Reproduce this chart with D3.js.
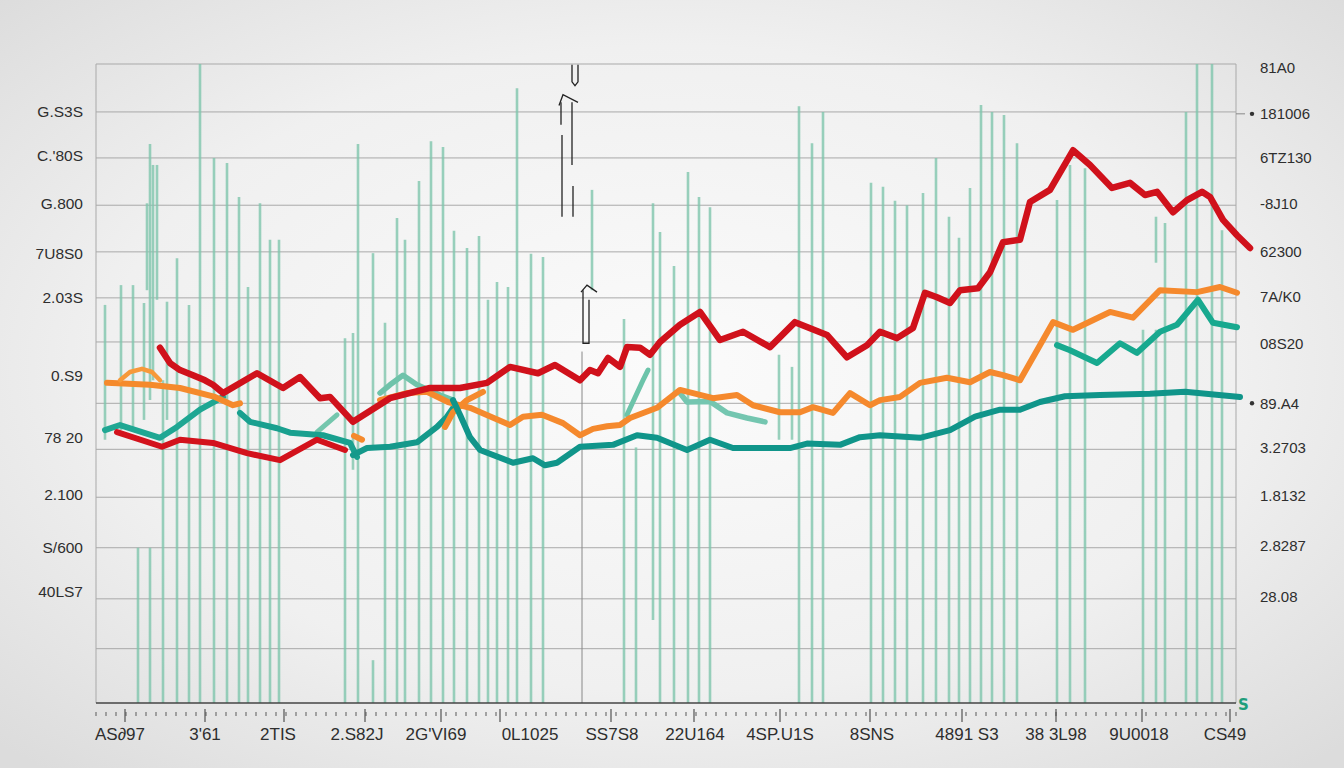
<!DOCTYPE html>
<html>
<head>
<meta charset="utf-8">
<script src="https://cdn.jsdelivr.net/npm/d3@7"></script>
<style>
  html, body { margin: 0; padding: 0; background: #e9e9e9; }
  .lbl { font-family: "Liberation Sans", Arial, sans-serif; fill: #2e2e2e; }
  .grid { stroke: #a9a9a9; stroke-width: 1; }
  .spike { stroke: #7fc6ad; stroke-opacity: 0.8; stroke-width: 2.6; }
  .ser { fill: none; stroke-linejoin: round; stroke-linecap: round; }
  .ink { fill: none; stroke: #222; stroke-width: 1.3; }
</style>
</head>
<body>
<div id="chart"></div>
<script>
// ---- data (periods 0..114 along x, index 0..100 along y) ----
var gridValues = [92.5, 85.3, 77.9, 70.6, 63.4, 56.5, 46.9, 39.7, 32.2, 24.3, 16.3, 8.5];

var leftLabels = ["G.S3S", "C.'80S", "G.800", "7U8S0", "2.03S", "0.S9", "78 20", "2.100", "S/600", "40LS7"];
var leftValues = [92.5, 85.6, 78.1, 70.4, 63.5, 51.2, 41.5, 32.6, 24.4, 17.4];

var rightLabels = ["81A0", "181006", "6TZ130", "-8J10", "62300", "7A/K0", "08S20", "89.A4", "3.2703", "1.8132", "2.8287", "28.08"];
var rightValues = [99.4, 92.2, 85.3, 78.1, 70.6, 63.5, 56.2, 46.9, 39.9, 32.4, 24.6, 16.7];
var rightDots = [1, 7];

var bottomLabels = ["AS\u220297", "3'61", "2TIS", "2.S82J", "2G'VI69", "0L1025", "SS7S8", "22U164", "4SP.U1S", "8SNS", "4891 S3", "38 3L98", "9U0018", "CS49"];
var bottomValues = [2.4, 10.9, 18.2, 26.1, 34.0, 43.4, 51.6, 59.9, 68.4, 77.6, 87.1, 96.0, 104.3, 112.9];
var majorTicks = [2.9, 10.9, 18.8, 26.9, 34.5, 40.4, 51.5, 59.8, 68.4, 77.4, 86.6, 96.0, 104.6, 113.4];

// vertical bars: position, top, base
var spikeX    = [0.9, 2.5, 3.7, 4.2, 4.8, 5.1, 5.4, 5.4, 5.7, 6.1, 6.7, 7.1, 8.1, 9.3, 10.4, 11.8, 13.1, 14.3, 15.2, 16.4, 17.4, 18.3,
                 24.9, 25.7, 26.2, 27.7, 27.7, 28.9, 30.1, 30.9, 32.3, 33.5, 34.7, 35.8, 37.1, 38.3, 39.2, 40.1, 41.2, 42.1, 43.5, 44.7,
                 49.6, 52.8, 54.0, 55.7, 56.4, 57.8, 59.2, 60.3, 61.4, 68.3, 69.6, 70.3, 71.6, 72.7,
                 77.5, 78.7, 79.9, 81.1, 82.7, 84.0, 85.3, 86.3, 87.4, 88.5, 89.6, 90.8, 92.1, 96.1, 97.4, 98.9,
                 104.7, 106.0, 106.0, 106.9, 109.0, 110.1, 111.6, 112.6];
var spikeTop  = [62.3, 65.4, 65.4, 24.3, 62.6, 78.2, 87.5, 24.3, 84.2, 84.2, 50.5, 62.8, 69.6, 62.3, 100, 85.3, 84.5, 79.2, 65.1, 78.2, 72.5, 72.5,
                 57.1, 57.9, 87.5, 70.4, 6.7, 59.5, 75.9, 72.5, 81.7, 87.9, 87.0, 73.9, 71.2, 73.1, 63.1, 65.9, 65.1, 96.2, 70.3, 69.8,
                 80.3, 60.1, 40.0, 78.2, 73.7, 68.4, 83.1, 79.2, 77.6, 54.5, 52.6, 93.4, 87.6, 92.5,
                 81.4, 80.8, 78.6, 77.9, 79.8, 85.3, 76.1, 72.8, 80.6, 93.6, 92.5, 92.0, 87.6, 78.7, 84.2, 83.7,
                 58.4, 76.1, 58.4, 75.1, 92.5, 100, 100, 74.0];
var spikeBase = [41.2, 42.7, 42.7, 0, 44.3, 64.6, 47.4, 0, 50.5, 63.1, 0, 44.3, 0, 0, 0, 0, 0, 0, 0, 0, 0, 0,
                 0, 36.5, 0, 39.6, 0, 0, 0, 0, 0, 0, 0, 0, 0, 0, 0, 0, 0, 0, 0, 0,
                 64.6, 0, 0, 13.0, 0, 0, 0, 0, 0, 41.2, 41.2, 0, 0, 0,
                 0, 0, 0, 0, 0, 0, 0, 0, 0, 0, 0, 0, 0, 0, 0, 0,
                 0, 68.9, 0, 0, 0, 0, 0, 0];

// series as [period, value]
var redMain = [[6.4,55.6],[7.4,53.2],[8.4,52.1],[9.7,51.3],[10.9,50.5],[11.7,49.8],[12.7,48.5],[16.1,51.6],[18.7,49.3],[20.4,51.0],
  [22.4,47.7],[23.4,47.9],[25.7,44.0],[29.4,47.7],[33.4,49.3],[36.4,49.3],[39.1,50.1],[41.4,52.6],[44.2,51.6],[45.9,52.9],
  [48.4,50.5],[49.4,52.1],[50.2,51.6],[51.2,54.0],[52.4,52.6],[53.1,55.7],[54.4,55.6],[55.4,54.5],[56.4,56.5],[58.4,59.2],
  [60.4,61.2],[62.4,56.8],[64.7,58.1],[67.4,55.7],[69.9,59.6],[73.1,57.6],[75.1,54.1],[77.1,56.0],[78.4,58.1],[80.1,57.1],
  [81.7,58.7],[82.9,64.2],[84.1,63.5],[85.4,62.6],[86.4,64.6],[88.2,64.9],[89.4,67.4],[90.7,72.1],[92.4,72.5],[93.4,78.4],
  [95.4,80.3],[97.7,86.5],[99.4,84.2],[101.6,80.6],[103.4,81.4],[104.9,79.5],[106.1,80.0],[107.7,76.8],[109.1,78.7],
  [110.6,80.0],[111.4,79.2],[112.7,75.6],[114.1,73.2],[115.4,71.2]];
var redLow = [[2.1,42.4],[6.6,40.1],[8.4,41.2],[11.7,40.7],[15.1,39.1],[18.4,38.0],[22.1,41.2],[24.9,39.6]];

var orangeA = [[1.1,50.1],[5.4,49.8],[8.4,49.3],[11.9,47.9],[13.7,46.6],[14.4,46.9]];
var orangeHump = [[2.4,50.5],[3.4,51.8],[4.6,52.3],[5.6,51.8],[6.4,50.5]];
var orangeDot = [[25.8,41.8],[26.6,41.2]];
var orangeB = [[28.4,47.4],[31.1,48.5],[33.1,48.7],[35.2,47.1],[37.4,46.2],[41.4,43.5],[42.7,44.8],[44.6,45.1],[46.7,43.8],
  [48.4,41.9],[49.7,42.9],[51.1,43.3],[52.4,43.5],[53.4,44.6],[56.1,46.2],[58.4,49.0],[61.7,47.7],[64.1,48.2],[65.7,46.6],
  [68.4,45.5],[70.4,45.5],[71.7,46.3],[73.7,45.4],[75.4,48.5],[77.4,46.6],[78.4,47.4],[80.4,47.9],[82.4,50.1],[85.1,50.9],
  [87.4,50.2],[89.4,51.8],[90.7,51.3],[92.4,50.5],[95.7,59.6],[97.7,58.4],[101.4,61.2],[103.7,60.3],[106.4,64.6],
  [110.1,64.3],[112.4,65.1],[114.1,64.2]];
var orangeC = [[34.9,43.2],[35.7,45.5],[37.1,47.4],[38.7,48.7]];

var tealA = [[0.9,42.7],[2.4,43.5],[6.4,41.5],[8.1,43.2],[10.4,45.9],[12.7,47.9]];
var tealB = [[14.4,45.4],[15.4,44.0],[18.1,43.0],[19.4,42.3],[22.7,41.9],[25.4,40.7],[26.1,38.5]];
var tealC = [[25.7,38.8],[27.1,39.9],[29.4,40.1],[32.1,40.8],[34.1,43.2],[35.1,44.8],[35.9,46.6]];
var tealMain = [[35.7,47.4],[36.4,45.1],[37.4,41.6],[38.4,39.6],[41.7,37.6],[43.7,38.3],[44.9,37.2],[46.1,37.6],[48.4,40.1],
  [51.7,40.4],[54.1,41.9],[56.1,41.5],[59.1,39.6],[61.4,41.2],[63.7,39.9],[69.4,39.9],[71.1,40.6],[74.4,40.4],[76.4,41.6],
  [78.4,41.9],[82.4,41.5],[85.4,42.7],[87.9,44.8],[90.4,45.9],[92.4,45.9],[94.4,47.1],[96.9,48.0],[100.4,48.2],
  [105.4,48.4],[108.9,48.7],[114.4,47.9]];
var tealRight = [[96.1,56.0],[97.4,55.2],[100.1,53.2],[102.4,56.3],[104.1,54.8],[106.4,58.1],[108.1,59.2],[110.2,63.1],
  [111.7,59.5],[114.1,58.8]];
var lightHump = [[28.4,48.5],[29.4,49.8],[30.7,51.3],[32.1,49.8],[34.4,48.2],[35.7,47.4]];
var lightA = [[22.1,42.4],[24.1,45.1]];
var lightB = [[53.1,45.1],[54.7,50.5],[55.2,52.1]];
var lightC = [[58.4,48.5],[59.1,47.1],[61.4,47.2],[63.1,45.4],[65.1,44.6],[66.9,44.0]];

// hand-drawn pen marks near the middle
var inkMarks = [
  [[46.6,76.1],[46.6,88.9]],
  [[46.5,90.5],[46.5,94.0]],
  [[46.3,93.5],[46.7,95.2],[48.2,94.0]],
  [[47.6,94.0],[47.6,84.2]],
  [[47.7,80.9],[47.7,76.1]],
  [[47.6,99.9],[47.6,97.2],[47.9,96.6],[48.2,97.2],[48.2,99.9]],
  [[48.5,64.3],[49.1,65.4],[50.1,64.3]],
  [[48.7,64.6],[48.7,56.3],[49.3,56.3],[49.3,63.1]]
];

// ---- drawing ----
var W = 1344, H = 768;
var svg = d3.select("#chart").append("svg").attr("width", W).attr("height", H);

var defs = svg.append("defs");
var bg = defs.append("radialGradient").attr("id", "bg")
  .attr("cx", "50%").attr("cy", "48%").attr("r", "70%");
bg.append("stop").attr("offset", "0%").attr("stop-color", "#fbfbfb");
bg.append("stop").attr("offset", "60%").attr("stop-color", "#f0f0f0");
bg.append("stop").attr("offset", "100%").attr("stop-color", "#dcdcdc");
svg.append("rect").attr("width", W).attr("height", H).attr("fill", "url(#bg)");

var x = d3.scaleLinear().domain([0, 114]).range([96, 1236]);
var y = d3.scaleLinear().domain([0, 100]).range([703, 64]);

// frame + gridlines
svg.selectAll(".grid").data(gridValues).enter().append("line")
  .attr("class", "grid")
  .attr("x1", x(0)).attr("x2", x(114))
  .attr("y1", d => y(d)).attr("y2", d => y(d));
svg.append("line").attr("class", "grid").attr("x1", x(0)).attr("x2", x(114)).attr("y1", y(100)).attr("y2", y(100));
svg.append("line").attr("class", "grid").attr("x1", x(0)).attr("x2", x(0)).attr("y1", y(100)).attr("y2", y(0));
svg.append("line").attr("class", "grid").attr("x1", x(114)).attr("x2", x(114)).attr("y1", y(100)).attr("y2", y(0));
svg.append("line").attr("class", "grid").style("stroke", "#888")
  .attr("x1", x(48.6)).attr("x2", x(48.6)).attr("y1", y(55)).attr("y2", y(0));

// green bars
svg.selectAll(".spike").data(spikeX).enter().append("line")
  .attr("class", "spike")
  .attr("x1", d => x(d)).attr("x2", d => x(d))
  .attr("y1", (d, i) => y(spikeTop[i])).attr("y2", (d, i) => y(spikeBase[i]));

// series
var line = d3.line().x(d => x(d[0])).y(d => y(d[1])).curve(d3.curveLinear);
var series = [
  [lightA, "#74c6ad", 5], [lightHump, "#6fc3aa", 5.5], [lightB, "#6cc4aa", 5], [lightC, "#74c6b0", 5.5],
  [tealA, "#1fa793", 6], [tealB, "#19a08f", 6], [tealC, "#14998b", 6],
  [redLow, "#d3121c", 6],
  [orangeA, "#f58a2c", 6], [orangeHump, "#f7993a", 4.5], [orangeDot, "#f58a2c", 6], [orangeB, "#f5892d", 6], [orangeC, "#f58a2c", 6],
  [tealMain, "#10958a", 6], [tealRight, "#18a98f", 6],
  [redMain, "#d0111b", 6.5]
];
svg.selectAll(".ser").data(series).enter().append("path")
  .attr("class", "ser")
  .attr("d", d => line(d[0]))
  .attr("stroke", d => d[1])
  .attr("stroke-width", d => d[2]);

// pen marks
svg.selectAll(".ink").data(inkMarks).enter().append("path")
  .attr("class", "ink").attr("d", d => line(d));

// bottom axis
svg.append("line").attr("x1", x(0)).attr("x2", x(114)).attr("y1", y(0)).attr("y2", y(0))
  .attr("stroke", "#444").attr("stroke-width", 1.6);
svg.selectAll(".minor").data(x.ticks(130)).enter().append("line")
  .attr("x1", d => x(d)).attr("x2", d => x(d))
  .attr("y1", y(0) + 9).attr("y2", y(0) + 13)
  .attr("stroke", "#666").attr("stroke-width", 1.1);
svg.selectAll(".major").data(majorTicks).enter().append("line")
  .attr("x1", d => x(d)).attr("x2", d => x(d))
  .attr("y1", y(0) + 6).attr("y2", y(0) + 19)
  .attr("stroke", "#444").attr("stroke-width", 1.1);
svg.selectAll(".blbl").data(bottomLabels).enter().append("text")
  .attr("class", "lbl")
  .attr("x", (d, i) => x(bottomValues[i])).attr("y", 740)
  .attr("text-anchor", "middle").attr("font-size", 17)
  .text(d => d);

// left labels
svg.selectAll(".llbl").data(leftLabels).enter().append("text")
  .attr("class", "lbl")
  .attr("x", 83).attr("y", (d, i) => y(leftValues[i]))
  .attr("dy", "0.35em").attr("text-anchor", "end").attr("font-size", 15.5)
  .text(d => d);

// right labels
svg.selectAll(".rlbl").data(rightLabels).enter().append("text")
  .attr("class", "lbl")
  .attr("x", 1260).attr("y", (d, i) => y(rightValues[i]))
  .attr("dy", "0.35em").attr("text-anchor", "start").attr("font-size", 15)
  .text(d => d);
svg.selectAll(".rdot").data(rightDots).enter().append("circle")
  .attr("cx", 1252).attr("cy", d => y(rightValues[d])).attr("r", 2.2).attr("fill", "#333");
svg.append("line").attr("x1", x(114)).attr("x2", x(114) + 9)
  .attr("y1", y(rightValues[1])).attr("y2", y(rightValues[1])).attr("stroke", "#888");

// little green hook at the axis end
svg.append("text").attr("x", x(114) + 2).attr("y", y(0) + 7)
  .attr("font-family", "DejaVu Sans").attr("font-size", 15).attr("font-weight", "bold")
  .attr("fill", "#1f9e7c").text("S");
</script>
</body>
</html>
